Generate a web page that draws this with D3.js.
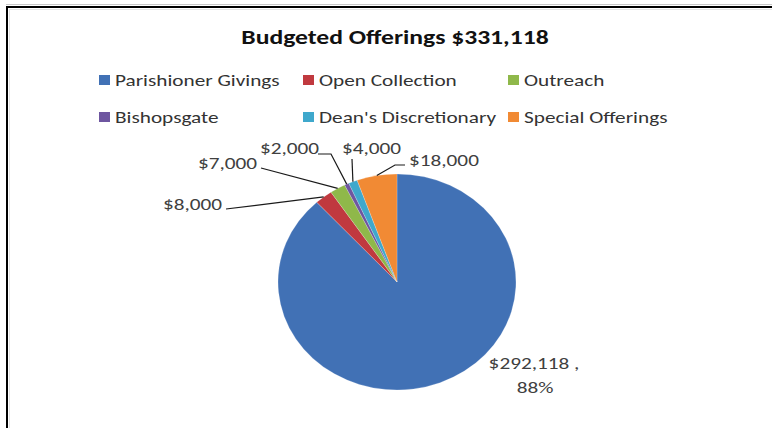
<!DOCTYPE html>
<html>
<head>
<meta charset="utf-8">
<script src="https://cdn.jsdelivr.net/npm/d3@7"></script>
<style>
  html, body { margin: 0; padding: 0; background: #fff; }
  svg { display: block; }
  text { font-family: Carlito, Calibri, Lato, sans-serif; }
</style>
</head>
<body>
<svg id="chart" width="772" height="428"></svg>
<script>
// Budget categories and amounts
const categories = ["Parishioner Givings", "Open Collection", "Outreach",
                    "Bishopsgate", "Dean's Discretionary", "Special Offerings"];
const amounts = [292118, 8000, 7000, 2000, 4000, 18000];
const colors = ["#4171B5", "#C0393F", "#8FB84A", "#6E56A0", "#3FA8CC", "#F18A34"];
const chartTitle = "Budgeted Offerings $331,118";

// Where each data label sits (text start x, baseline y) and where its leader begins
const labelLayout = [
  null,
  { x: 163, y: 210, lead: [[226, 209]] },
  { x: 198, y: 169, lead: [[261, 168]] },
  { x: 260, y: 154, lead: [[318, 154], [331, 154]] },
  { x: 342, y: 154, lead: [[352, 159]] },
  { x: 409, y: 166, lead: [[405, 165], [395, 165]] }
];

// The whole chart is drawn a little wider than tall
const sx = 1.25;

const svg = d3.select("#chart");
const total = d3.sum(amounts);
const fmt = d3.format("$,");

// Text placed at (x, y) and widened by sx around its anchor
function addText(parent, x, y, str, size, opts = {}) {
  return parent.append("text")
    .attr("transform", `translate(${x},${y}) scale(${sx},1)`)
    .attr("text-anchor", opts.anchor || "start")
    .attr("font-size", size)
    .attr("font-weight", opts.weight || "normal")
    .attr("fill", opts.fill || "#404040")
    .text(str);
}

// Chart frame
svg.append("line").attr("x1", 6).attr("x2", 772).attr("y1", 4.5).attr("y2", 4.5)
  .attr("stroke", "#c8c8c8").attr("stroke-width", 1);
svg.append("rect").attr("x", 7).attr("y", 7).attr("width", 800).attr("height", 440)
  .attr("fill", "#fff").attr("stroke", "#000").attr("stroke-width", 2);
svg.append("rect").attr("x", 9.5).attr("y", 9.5).attr("width", 800).attr("height", 440)
  .attr("fill", "none").attr("stroke", "#e4e4e4").attr("stroke-width", 1);

// Title
addText(svg, 395, 44, chartTitle, 20.5, { anchor: "middle", weight: "bold", fill: "#111" });

// Legend: 3 columns x 2 rows
const legendCols = [99, 303, 508];
const legendRows = [80, 117];
const legend = svg.append("g");
categories.forEach((c, i) => {
  const gx = legendCols[i % 3], gy = legendRows[Math.floor(i / 3)];
  legend.append("rect").attr("x", gx).attr("y", gy - 5).attr("width", 11).attr("height", 10)
    .attr("fill", colors[i]);
  addText(legend, gx + 16, gy + 6, c, 17, { fill: "#333" });
});

// Pie (drawn on a circle then stretched to the chart's elliptical footprint)
const cx = 397, cy = 282, rx = 119, ry = 108;
const pie = d3.pie().sort(null).value(d => d)(amounts);
const arc = d3.arc().innerRadius(0).outerRadius(rx);
const pieG = svg.append("g").attr("transform", `translate(${cx},${cy}) scale(1,${ry / rx})`);
pieG.selectAll("path").data(pie).enter().append("path")
  .attr("d", arc)
  .attr("fill", (d, i) => colors[i])
  .attr("stroke", "rgba(255,255,255,0.35)").attr("stroke-width", 0.6);

// Point on the pie edge at the slice's mid angle
function edgePoint(d) {
  const a = (d.startAngle + d.endAngle) / 2;
  return [cx + rx * Math.sin(a), cy - ry * Math.cos(a)];
}

// Data labels with leader lines for the small slices
const labels = svg.append("g");
pie.forEach((d, i) => {
  const L = labelLayout[i];
  if (!L) return;
  const pts = L.lead.concat([edgePoint(d)]);
  labels.append("path").attr("d", d3.line()(pts))
    .attr("fill", "none").attr("stroke", "#1a1a1a").attr("stroke-width", 1.2);
  addText(labels, L.x, L.y, fmt(amounts[i]), 17);
});

// Label for the largest slice: value and percentage
const pct = d3.format(".0%")(amounts[0] / total);
addText(labels, 534, 369, fmt(amounts[0]) + " ,", 17, { anchor: "middle" });
addText(labels, 535, 393, pct, 17, { anchor: "middle" });
</script>
</body>
</html>
